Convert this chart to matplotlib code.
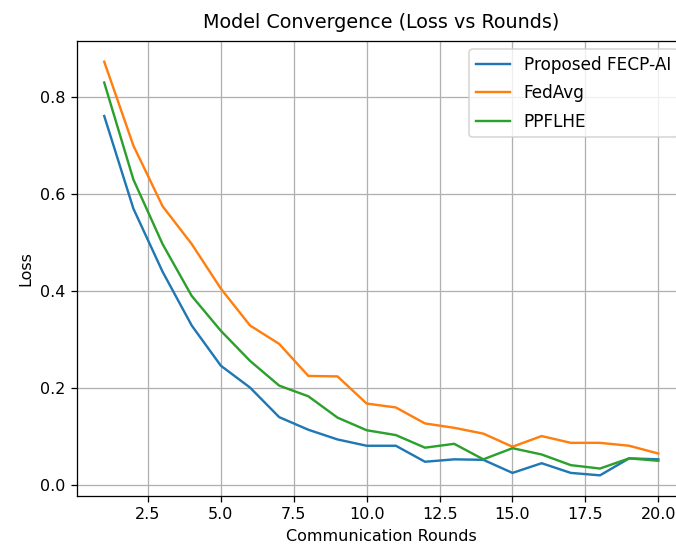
import matplotlib
matplotlib.use('Agg')
import matplotlib.pyplot as plt
import numpy as np

# Communication rounds
rounds = np.arange(1, 21)

# Loss values
loss_fecp = [0.761, 0.57, 0.44, 0.329, 0.246, 0.201, 0.14, 0.114, 0.094, 0.081,
             0.081, 0.048, 0.053, 0.052, 0.025, 0.045, 0.025, 0.02, 0.055, 0.053]
loss_fedavg = [0.873, 0.70, 0.575, 0.497, 0.405, 0.329, 0.291, 0.225, 0.224, 0.168,
               0.16, 0.127, 0.118, 0.106, 0.079, 0.101, 0.087, 0.087, 0.081, 0.065]
loss_ppflhe = [0.83, 0.63, 0.497, 0.39, 0.318, 0.256, 0.205, 0.183, 0.139, 0.113,
               0.103, 0.077, 0.085, 0.053, 0.076, 0.063, 0.041, 0.034, 0.055, 0.05]

dpi = 115
fig = plt.figure(figsize=(676 / dpi, 544 / dpi), dpi=dpi)
# the reference is a crop: the right spine and the bottom of the x label fall outside
ax = fig.add_axes([0.1132, 0.0882, 0.9016, 0.8364])

ax.plot(rounds, loss_fecp, label='Proposed FECP-AI')
ax.plot(rounds, loss_fedavg, label='FedAvg')
ax.plot(rounds, loss_ppflhe, label='PPFLHE')

ax.set_title('Model Convergence (Loss vs Rounds)', pad=8)
ax.set_xlabel('Communication Rounds')
ax.set_ylabel('Loss')
ax.legend(loc='upper right', fontsize=10.6, labelspacing=0.6)
ax.grid(True)

fig.savefig('out.png', dpi=dpi)
